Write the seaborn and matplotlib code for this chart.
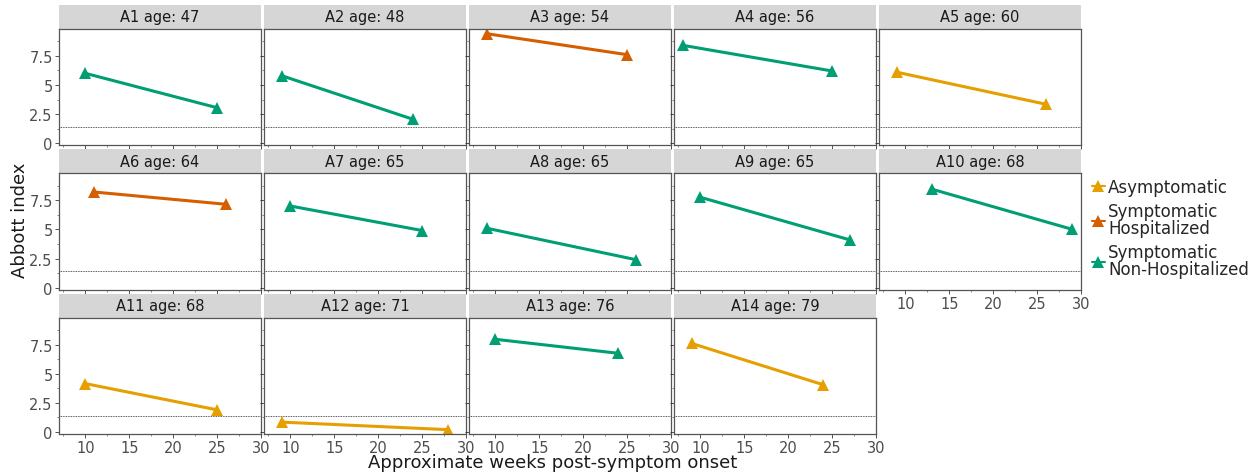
import matplotlib
matplotlib.use("Agg")
import matplotlib.pyplot as plt
from matplotlib.patches import Rectangle
from matplotlib.lines import Line2D
from matplotlib.ticker import MultipleLocator, FuncFormatter
import seaborn as sns
import pandas as pd

# ---- data ----
ids = ["A1", "A2", "A3", "A4", "A5", "A6", "A7", "A8", "A9", "A10", "A11", "A12", "A13", "A14"]
ages = [47, 48, 54, 56, 60, 64, 65, 65, 65, 68, 68, 71, 76, 79]
groups = ["Symptomatic\nNon-Hospitalized", "Symptomatic\nNon-Hospitalized", "Symptomatic\nHospitalized",
          "Symptomatic\nNon-Hospitalized", "Asymptomatic", "Symptomatic\nHospitalized",
          "Symptomatic\nNon-Hospitalized", "Symptomatic\nNon-Hospitalized", "Symptomatic\nNon-Hospitalized",
          "Symptomatic\nNon-Hospitalized", "Asymptomatic", "Asymptomatic",
          "Symptomatic\nNon-Hospitalized", "Asymptomatic"]
week_first = [10, 9, 9, 8, 9, 11, 10, 9, 10, 13, 10, 9, 10, 9]
week_second = [25, 24, 25, 25, 26, 26, 25, 26, 27, 29, 25, 28, 24, 24]
index_first = [6.0, 5.8, 9.4, 8.4, 6.1, 8.2, 7.0, 5.1, 7.75, 8.45, 4.15, 0.85, 7.95, 7.6]
index_second = [3.05, 2.05, 7.6, 6.2, 3.35, 7.15, 4.9, 2.4, 4.1, 5.0, 1.9, 0.2, 6.75, 4.05]
cutoff = 1.4

group_order = ["Asymptomatic", "Symptomatic\nHospitalized", "Symptomatic\nNon-Hospitalized"]
group_colors = ["#E69F00", "#D55E00", "#009E73"]
palette = dict(zip(group_order, group_colors))

rows = []
for i, pid in enumerate(ids):
    lab = f"{pid} age: {ages[i]}"
    rows.append(dict(panel=lab, group=groups[i], week=week_first[i], index=index_first[i]))
    rows.append(dict(panel=lab, group=groups[i], week=week_second[i], index=index_second[i]))
df = pd.DataFrame(rows)
panel_order = [f"{p} age: {a}" for p, a in zip(ids, ages)]

sns.set_theme(style="white")
plt.rcParams["font.family"] = ["DejaVu Sans"]

g = sns.relplot(data=df, x="week", y="index", col="panel", col_order=panel_order, col_wrap=5,
                hue="group", hue_order=group_order, palette=palette, kind="line",
                marker="^", markersize=9, markeredgewidth=0, linewidth=2.2,
                height=1.2, aspect=1.7, legend=False,
                facet_kws=dict(sharex=True, sharey=True))

g.figure.set_size_inches(12.58, 4.77)
g.figure.subplots_adjust(left=59/1258, right=1081/1258, top=1-30/477, bottom=1-435/477,
                         wspace=3/202, hspace=28/116)

g.set(xlim=(7.0, 30.0), ylim=(-0.17, 9.8))
g.set_titles("")
g.set_axis_labels("", "")

fmt = FuncFormatter(lambda v, p: f"{v:g}")
for k, (ax, lab) in enumerate(zip(g.axes.flat, panel_order)):
    ax.axhline(cutoff, color="#222222", lw=0.6, ls=(0, (1, 1)), zorder=1)
    ax.xaxis.set_major_locator(MultipleLocator(5))
    ax.xaxis.set_minor_locator(MultipleLocator(2.5))
    ax.yaxis.set_major_locator(MultipleLocator(2.5))
    ax.yaxis.set_minor_locator(MultipleLocator(1.25))
    ax.xaxis.set_major_formatter(fmt)
    ax.yaxis.set_major_formatter(fmt)
    ax.tick_params(which="major", length=3, width=0.6, color="#333333",
                   labelsize=10.5, labelcolor="#4d4d4d", pad=1.5,
                   bottom=True, left=True)
    ax.tick_params(which="minor", length=1.5, width=0.5, color="#555555", bottom=True, left=True)
    ax.tick_params(labelleft=(k % 5 == 0))
    for s in ax.spines.values():
        s.set_visible(True)
        s.set_color("#555555")
        s.set_linewidth(0.9)
    rect = Rectangle((0, 1.0), 1, 24/116, transform=ax.transAxes, facecolor="#D6D6D6",
                     edgecolor="none", clip_on=False, zorder=0)
    ax.add_patch(rect)
    ax.text(0.5, 1.0 + 12/116, lab, transform=ax.transAxes, ha="center", va="center",
            fontsize=10.5, color="#1a1a1a")

fig = g.figure
fig.text(553/1258, 1 - 463/477, "Approximate weeks post-symptom onset", ha="center", va="center",
         fontsize=13, color="#1a1a1a")
fig.text(20/1258, 1 - 220/477, "Abbott index", ha="center", va="center", rotation=90,
         fontsize=13, color="#1a1a1a")

handles = [Line2D([0], [0], color=c, marker="^", markersize=8, markeredgewidth=0, lw=1.5)
           for c in group_colors]
leg = fig.legend(handles, group_order, loc="center left", bbox_to_anchor=(1085/1258, 1 - 229/477),
                 frameon=False, fontsize=12, handlelength=0.8, handletextpad=0.2, labelspacing=0.35,
                 borderaxespad=0)
for t in leg.get_texts():
    t.set_linespacing(0.95)

fig.savefig("out.png", dpi=100)
